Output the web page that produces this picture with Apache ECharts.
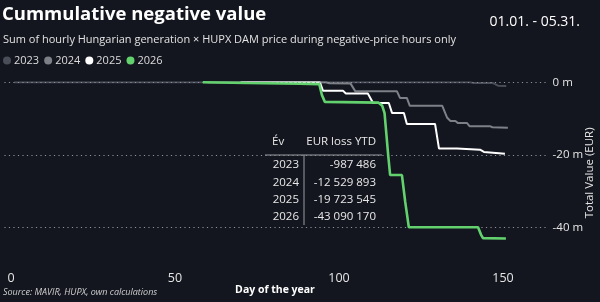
<!DOCTYPE html>
<html><head><meta charset="utf-8">
<script src="https://cdn.jsdelivr.net/npm/echarts@6/dist/echarts.min.js"></script>
<style>html,body{margin:0;padding:0;background:#13161f;}#c{width:600px;height:302px;}</style>
</head><body><div id="c"></div>
<script>
// ---- data ----
const seriesNames = ['2023', '2024', '2025', '2026'];
const days2023 = [1, 140, 141, 147, 148.5, 151];
const vals2023 = [0, 0, -0.2, -0.2, -0.95, -0.99];
const days2024 = [60, 96, 97, 103.5, 105, 117.7, 118.6, 120.7, 121.6, 131.5, 133, 134, 135.5, 136.2, 139, 139.8, 146, 146.8, 151.5];
const vals2024 = [0, 0, -0.25, -0.3, -2.5, -2.5, -4.3, -4.3, -6.5, -6.5, -9.8, -10.7, -10.7, -11.2, -11.2, -12.1, -12.1, -12.4, -12.53];
const days2025 = [70, 94.2, 95.1, 101.2, 102.1, 108.8, 110.4, 115.2, 116.2, 119.8, 120.7, 129.3, 130.5, 136, 136.6, 143, 144.2, 150.6];
const vals2025 = [0, 0, -2.3, -2.3, -3.1, -3.1, -5.7, -5.7, -8.5, -8.5, -11.5, -11.5, -18.3, -18.3, -18.6, -18.6, -19.2, -19.72];
const days2026 = [58.5, 72, 88, 94, 94.8, 95.7, 112, 113.2, 113.9, 115, 115.6, 119.2, 120.2, 121.3, 142.4, 143.3, 143.9, 150.9];
const vals2026 = [0, -0.2, -0.4, -0.5, -3.5, -5.4, -5.6, -6.5, -8.5, -20, -25.6, -25.6, -33, -40, -40, -42, -43, -43.09];
const xTicks = [0, 50, 100, 150];
const yTicks = [0, -20, -40];
const tableYears = ['2023', '2024', '2025', '2026'];
const tableLoss = [-987486, -12529893, -19723545, -43090170];

// ---- styling ----
const FONT = "'Segoe UI','Open Sans','Noto Sans',sans-serif";
const colors = ['#4a4e58', '#7d8087', '#ffffff', '#63d26e'];
const widths = [2, 2, 2, 2.6];
const allDays = [days2023, days2024, days2025, days2026];
const allVals = [vals2023, vals2024, vals2025, vals2026];

function pairs(d, v) { return d.map((x, i) => [x, v[i]]); }
function fmt(n) {
  const s = Math.abs(n).toString().replace(/\B(?=(\d{3})+(?!\d))/g, ' ');
  return (n < 0 ? '-' : '') + s;
}

const series = seriesNames.map((name, i) => ({
  name, type: 'line', data: pairs(allDays[i], allVals[i]),
  showSymbol: false, symbol: 'none', z: 2 + i,
  lineStyle: { color: colors[i], width: widths[i] },
  itemStyle: { color: colors[i] },
  emphasis: { disabled: true }
}));
series.unshift({
  name: 'grid', type: 'line', data: [], z: 1, silent: true,
  markLine: {
    silent: true, symbol: 'none', label: { show: false },
    lineStyle: { color: '#8e9198', width: 1, type: [1.2, 3.3] },
    data: yTicks.map(v => ({ yAxis: v }))
  }
});

// table graphic
const tX1 = 265, tX2 = 382, tVx = 304, tHeadY = 142, tLineY = 155, rowY0 = 165, rowH = 17.3;
const tg = [];
const txtStyle = (t, x, y, align) => ({ type: 'text', x, y, silent: true, style: { text: t, fill: '#e8e8e8', font: '11.5px ' + FONT, textAlign: align, textVerticalAlign: 'middle' } });
tg.push(txtStyle('Év', 272, tHeadY, 'left'));
tg.push(txtStyle('EUR loss YTD', 376, tHeadY, 'right'));
tg.push({ type: 'line', silent: true, shape: { x1: tX1, y1: tLineY, x2: tX2, y2: tLineY }, style: { stroke: '#9a9ca2', lineWidth: 1 } });
tg.push({ type: 'line', silent: true, shape: { x1: tVx, y1: tLineY, x2: tVx, y2: tLineY + 70 }, style: { stroke: '#9a9ca2', lineWidth: 1 } });
tableYears.forEach((y, i) => {
  tg.push(txtStyle(y, 299, rowY0 + i * rowH, 'right'));
  tg.push(txtStyle(fmt(tableLoss[i]), 376, rowY0 + i * rowH, 'right'));
});

const chart = echarts.init(document.getElementById('c'));
chart.setOption({
  backgroundColor: '#13161f',
  animation: false,
  textStyle: { fontFamily: FONT },
  title: [
    { text: 'Cummulative negative value', left: 2, top: 5, padding: 0, textStyle: { fontSize: 18.5, fontWeight: 'bold', color: '#ffffff', fontFamily: FONT } },
    { text: 'Sum of hourly Hungarian generation × HUPX DAM price during negative-price hours only', left: 3, top: 34, padding: 0, textStyle: { fontSize: 11, fontWeight: 'normal', color: '#e2e2e2', fontFamily: FONT } },
    { text: '01.01. - 05.31.', right: 20, top: 15, padding: 0, textStyle: { fontSize: 14, fontWeight: 'normal', color: '#ffffff', fontFamily: FONT } },
    { text: 'Source: MAVIR, HUPX, own calculations', left: 3, top: 288, padding: 0, textStyle: { fontSize: 9, fontStyle: 'italic', fontWeight: 'normal', color: '#d0d0d0', fontFamily: FONT } }
  ],
  legend: {
    data: seriesNames, left: 3, top: 55, padding: 0, icon: 'circle', itemWidth: 8, itemHeight: 8, itemGap: 5,
    textStyle: { color: '#dcdcdc', fontSize: 11, fontFamily: FONT, padding: [0, 0, 0, -2] },
    selectedMode: false
  },
  grid: { left: 4.4, right: 54.4, top: 82.3, bottom: 38.5, containLabel: false, outerBoundsMode: 'none' },
  xAxis: {
    type: 'value', min: -2, max: 163,
    name: 'Day of the year', nameLocation: 'middle', nameGap: 21, nameMoveOverlap: false,
    nameTextStyle: { color: '#ffffff', fontSize: 10.5, fontWeight: 'bold', fontFamily: FONT },
    axisLine: { show: false }, axisTick: { show: false }, splitLine: { show: false },
    axisLabel: { customValues: xTicks, color: '#e6e6e6', fontSize: 12.5, margin: 8, fontFamily: FONT }
  },
  yAxis: {
    type: 'value', position: 'right', min: -50, max: 0,
    name: 'Total Value (EUR)', nameLocation: 'middle', nameGap: 44.5, nameRotate: 90, nameMoveOverlap: false,
    nameTextStyle: { color: '#e6e6e6', fontSize: 11.5, fontFamily: FONT, verticalAlign: 'middle' },
    axisLine: { show: false }, axisTick: { show: false }, splitLine: { show: false },
    axisLabel: { customValues: yTicks, formatter: v => v + ' m', color: '#e6e6e6', fontSize: 11.5, margin: 7, fontFamily: FONT }
  },
  series,
  graphic: tg
});
</script></body></html>
